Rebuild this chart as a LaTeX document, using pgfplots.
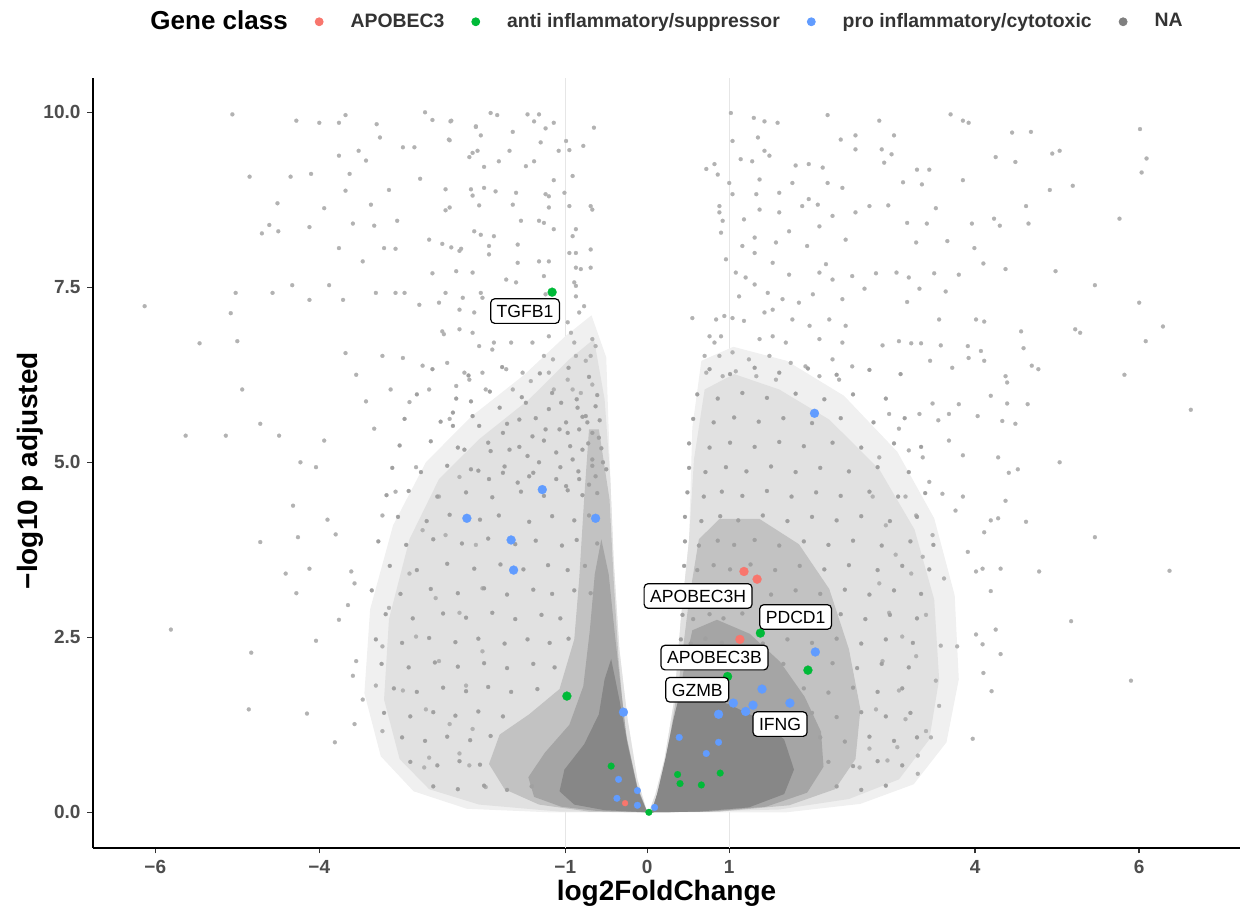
\documentclass[border=0pt]{standalone}
\usepackage{fontspec}
\setmainfont{Liberation Sans}
\usepackage{pgfplots}
\pgfplotsset{compat=1.18}
\definecolor{apored}{HTML}{F8766D}
\definecolor{antigreen}{HTML}{00BA38}
\definecolor{problue}{HTML}{619CFF}
\definecolor{nagrey}{HTML}{7F7F7F}
\definecolor{dotgrey}{HTML}{B2B2B2}
\definecolor{dotgreyd}{HTML}{A0A0A0}
\definecolor{tickgrey}{HTML}{4D4D4D}
\definecolor{layAA}{HTML}{F0F0F0}
\definecolor{layA}{HTML}{E1E1E1}
\definecolor{layB}{HTML}{C2C2C2}
\definecolor{layBB}{HTML}{A5A5A5}
\definecolor{layC}{HTML}{878787}
\definecolor{vline}{HTML}{E6E6E6}
\begin{document}
\begin{tikzpicture}
\useasboundingbox (-46.5pt,-30pt) rectangle (578.5pt,424pt);
\begin{axis}[
 scale only axis, width=573.5pt, height=385pt,
 xmin=-6.76, xmax=7.23, ymin=-0.51, ymax=10.49,
 axis x line*=bottom, axis y line*=left,
 axis line style={-, line width=0.9pt, black},
 xtick={-6,-4,-1,0,1,4,6}, xticklabels={−6,−4,−1,0,1,4,6},
 ytick={0,2.5,5,7.5,10}, yticklabels={0.0,2.5,5.0,7.5,10.0},
 tick align=outside, major tick length=2.75pt,
 tick style={line width=0.7pt, color=black!80},
 ticklabel style={font=\fontsize{9.5}{11}\selectfont\bfseries, text=tickgrey},
 xlabel={log2FoldChange}, ylabel={−log10 p adjusted},
 label style={font=\fontsize{14}{16}\selectfont\bfseries},
 xlabel style={at={([yshift=-22.5pt]axis description cs:0.5,0)}, anchor=center},
 ylabel style={at={([xshift=-31.5pt]axis description cs:0,0.49)}, anchor=center},
 legend style={draw=none, fill=none, at={(axis description cs:0.5,1.073)}, anchor=center,
   font=\fontsize{9.7}{11}\selectfont\bfseries, text=black!80,
   /tikz/every even column/.append style={column sep=5pt}},
 legend columns=-1,
 nagreydots/.style={forget plot, only marks, mark=*, mark size=1.0pt, color=dotgrey, mark options={line width=0.1pt}},
 nagreydotsd/.style={forget plot, only marks, mark=*, mark size=1.0pt, color=dotgreyd, mark options={line width=0.1pt}},
]
% reference lines
\addplot[forget plot, vline, line width=0.5pt] coordinates {(-1,-0.51) (-1,10.49)};
\addplot[forget plot, vline, line width=0.5pt] coordinates {(1,-0.51) (1,10.49)};
% density layers of the NA cloud
\addplot[forget plot, fill=layAA, draw=none] coordinates {(0,0) (-1.2,0.0) (-2.2,0.05) (-2.85,0.3) (-3.25,0.8) (-3.45,1.7) (-3.38,2.9) (-3.1,4.1) (-2.7,5.0) (-2.15,5.65) (-1.5,6.25) (-1.0,6.8) (-0.68,7.1) (-0.50,6.5) (-0.45,4.76) (-0.41,3.61) (-0.34,2.33) (-0.24,1.33) (-0.12,0.47)};
\addplot[forget plot, fill=layAA, draw=none] coordinates {(0.02,0) (0.6,0.0) (1.7,0.0) (2.6,0.12) (3.25,0.4) (3.65,1.0) (3.8,1.9) (3.75,3.1) (3.5,4.2) (3.05,5.15) (2.4,5.95) (1.7,6.45) (1.05,6.65) (0.66,6.45) (0.55,5.5) (0.51,3.90) (0.41,2.76) (0.33,1.61) (0.21,0.76) (0.10,0.26)};
\addplot[forget plot, fill=layA, draw=none] coordinates {(0,0) (-1.07,0.01) (-2.05,0.11) (-2.66,0.33) (-3.02,0.76) (-3.21,1.61) (-3.15,2.76) (-2.90,3.90) (-2.54,4.76) (-2.05,5.33) (-1.44,5.90) (-0.95,6.47) (-0.65,6.76) (-0.52,5.90) (-0.45,4.76) (-0.41,3.61) (-0.34,2.33) (-0.24,1.33) (-0.12,0.47)};
\addplot[forget plot, fill=layA, draw=none] coordinates {(0.02,0) (0.63,0.01) (1.61,0.04) (2.46,0.19) (3.07,0.47) (3.44,1.04) (3.56,1.90) (3.50,3.04) (3.26,4.04) (2.83,4.90) (2.22,5.61) (1.61,6.04) (1.06,6.26) (0.70,6.04) (0.57,5.04) (0.51,3.90) (0.41,2.76) (0.33,1.61) (0.21,0.76) (0.10,0.26)};
\addplot[forget plot, fill=layB, draw=none] coordinates {(0,0) (-0.71,0.01) (-1.32,0.11) (-1.74,0.33) (-1.93,0.69) (-1.80,1.11) (-1.44,1.40) (-1.07,1.76) (-0.89,2.47) (-0.83,3.33) (-0.77,4.47) (-0.71,5.47) (-0.59,5.47) (-0.46,4.47) (-0.41,3.33) (-0.35,2.19) (-0.27,1.19) (-0.13,0.40)};
\addplot[forget plot, fill=layB, draw=none] coordinates {(0.04,0) (0.88,0.01) (1.73,0.10) (2.29,0.33) (2.54,0.76) (2.60,1.47) (2.46,2.33) (2.22,3.19) (1.85,3.83) (1.37,4.19) (0.88,4.19) (0.63,3.90) (0.51,3.04) (0.39,1.90) (0.27,1.04) (0.15,0.33)};
\addplot[forget plot, fill=layBB, draw=none] coordinates {(0,0) (-0.62,0.02) (-1.05,0.08) (-1.38,0.22) (-1.45,0.50) (-1.25,0.85) (-0.95,1.25) (-0.78,1.80) (-0.70,2.60) (-0.64,3.40) (-0.56,3.90) (-0.47,3.40) (-0.40,2.60) (-0.32,1.75) (-0.25,1.05) (-0.12,0.36)};
\addplot[forget plot, fill=layBB, draw=none] coordinates {(0.05,0) (0.75,0.01) (1.45,0.08) (1.95,0.28) (2.15,0.65) (2.12,1.15) (1.92,1.65) (1.62,2.15) (1.25,2.55) (0.85,2.75) (0.55,2.60) (0.44,2.00) (0.33,1.20) (0.22,0.65) (0.12,0.25)};
\addplot[forget plot, fill=layC, draw=none] coordinates {(0,0) (-0.52,0.03) (-0.89,0.11) (-1.07,0.30) (-1.01,0.61) (-0.77,0.97) (-0.59,1.40) (-0.52,1.90) (-0.44,2.19) (-0.34,1.61) (-0.24,0.97) (-0.12,0.33)};
\addplot[forget plot, fill=layC, draw=none] coordinates {(0.05,0) (0.63,0.01) (1.24,0.07) (1.67,0.26) (1.79,0.61) (1.67,1.04) (1.37,1.33) (1.00,1.54) (0.63,1.69) (0.41,1.76) (0.32,1.33) (0.22,0.76) (0.12,0.26)};
% NA genes, sparse outer part
\addplot[nagreydots] coordinates {
(-5.06,9.97) (-4.28,9.88) (-4.00,9.85) (-3.76,9.85) (-3.68,9.96) (-3.30,9.83) (-2.71,10.0) (-2.62,9.89) (-2.39,9.88) (-2.09,9.79)
(-4.85,9.08) (-4.35,9.08) (-4.10,9.12) (-3.76,9.38) (-3.63,9.12) (-3.52,9.45) (-3.43,9.31) (-3.26,9.64) (-2.98,9.50) (-2.84,9.50) (-2.77,9.05) (-2.41,9.60) (-2.17,9.36)
(-4.51,8.70) (-3.94,8.63) (-3.68,8.88) (-3.37,8.68) (-3.15,8.89) (-2.46,8.60) (-2.13,8.81)
(-4.61,8.39) (-4.70,8.27) (-4.50,8.30) (-4.12,8.36) (-3.59,8.41) (-3.33,8.38) (-3.05,8.45) (-2.66,8.18) (-2.50,8.12)
(-3.76,8.06) (-3.47,7.87) (-3.21,8.06) (-3.07,8.05) (-2.27,8.05) (-2.03,8.25) (-2.62,7.70) (-2.33,7.73)
(-5.02,7.42) (-4.57,7.42) (-4.33,7.53) (-4.12,7.32) (-3.88,7.53) (-3.71,7.32) (-3.07,7.42) (-2.78,7.25)
(-6.13,7.23) (-5.08,7.13) (-5.46,6.70) (-5.00,6.73) (-4.94,6.04) (-5.63,5.38) (-5.14,5.38) (-4.72,5.55) (-4.49,5.38) (-4.32,4.38) (-4.72,3.86) (-4.26,3.93) (-4.41,3.41) (-4.28,3.13) (-5.81,2.61) (-4.83,2.28) (-4.86,1.47) (-4.15,1.41) (-3.81,1.00) (-4.04,2.45) (-3.90,4.18) (-3.80,3.97) (-4.12,3.48) (-3.76,2.75) (-3.61,3.44) (-3.57,3.27) (-3.65,2.96) (-3.55,2.16) (-3.59,1.95) (-3.47,1.61) (-3.57,1.26) (-3.31,1.81) (-3.23,1.16) (-2.72,0.64) (-2.66,0.78) (-2.29,0.84) (-2.17,0.67) (-1.97,0.36)
(-4.23,5.00) (-4.04,4.93) (-3.94,5.31) (-3.68,6.56) (-3.55,6.25) (-3.43,5.87) (-3.33,5.48) (-3.23,6.52) (-3.31,7.42) (-2.96,7.42) (-2.54,7.28) (-2.50,6.87) (-2.74,6.38) (-2.98,6.49) (-3.13,6.04) (-2.90,5.86) (-2.66,6.04) (-2.41,5.62) (-2.17,6.18) (-2.05,6.66) (-2.01,7.35) (-2.29,4.79) (-2.54,4.51) (-2.82,4.93) (-3.07,4.58) (-3.23,4.24) (-2.74,4.03) (-2.46,3.96) (-2.09,3.82) (-2.90,3.41) (-2.58,3.06) (-2.29,2.85) (-2.01,3.20) (-3.15,2.92) (-2.82,2.51) (-2.54,2.16) (-2.21,1.81) (-2.01,2.30) (-2.98,1.74) (-2.70,1.47) (-2.41,1.26) (-2.13,1.19) (-3.23,2.37)
(2.83,9.88) (3.70,9.97) (3.85,9.88) (3.92,9.85) (4.45,9.71) (4.68,9.72) (6.01,9.76) (6.09,9.34) (6.03,9.14) (3.01,9.67) (2.54,9.67) (2.86,9.47) (2.98,9.40) (2.89,9.28) (3.29,9.18) (3.44,9.18) (4.25,9.36) (4.49,9.29) (4.94,9.41) (5.03,9.45) (3.85,9.03) (3.12,9.00) (3.35,8.97) (4.91,8.89) (5.19,8.95) (4.62,8.66) (2.71,8.66) (3.52,8.63) (2.94,8.67) (3.17,8.42) (3.41,8.41) (3.96,8.41) (4.23,8.48) (4.65,8.41) (4.30,8.38) (5.76,8.48) (3.66,8.16) (3.28,8.14) (3.99,8.06) (4.10,7.84) (4.37,7.76) (4.98,7.73) (5.46,7.53) (6.00,7.28) (6.29,6.94) (6.08,6.73) (5.22,6.90) (5.28,6.85) (4.56,6.87) (4.59,6.63) (4.11,7.01) (4.01,7.04) (3.80,7.68) (3.64,7.44) (3.50,7.70) (3.32,7.48) (3.19,7.64) (3.04,7.71) (3.17,7.29) (2.79,7.70) (2.65,7.48) (3.56,7.04) (3.58,6.67) (3.91,6.66) (3.92,6.49) (4.07,6.59) (4.11,6.45) (4.37,6.23) (4.39,6.14) (4.69,6.38) (4.77,6.33) (5.82,6.25) (6.63,5.75) (3.72,6.35) (3.45,6.45) (3.34,6.70) (3.22,6.70) (3.07,6.73) (2.87,6.67) (4.19,5.95) (4.39,5.84) (4.64,5.83) (4.49,5.55) (4.33,5.59) (4.03,5.66) (3.80,5.83) (3.68,5.69) (3.48,5.84) (3.32,5.69) (5.03,5.00) (4.52,4.90) (4.41,4.85) (4.28,5.07) (3.85,4.51) (3.85,5.10) (3.68,5.31) (3.55,5.60) (4.19,4.17) (4.28,4.20) (4.37,4.45) (4.11,4.00) (4.62,4.15) (5.46,3.93) (6.37,3.45) (4.78,3.44) (4.31,3.48) (4.09,3.48) (4.19,3.16) (4.01,3.44) (3.91,3.72) (3.62,3.34) (5.17,2.73) (4.25,2.61) (4.31,2.26) (4.09,2.40) (4.01,2.54) (3.78,2.37) (3.58,2.38) (5.90,1.88) (4.20,1.73) (4.10,1.99) (3.97,1.05) (3.56,1.52) (3.46,1.07) (3.30,0.81) (3.30,0.55) (3.05,0.93) (2.93,0.74) (3.40,1.16) (3.52,1.88) (3.28,2.23) (3.40,2.82) (3.22,3.41) (3.36,3.65) (3.48,3.96) (3.28,4.24) (3.15,4.51) (3.44,4.72) (3.60,4.55) (3.76,4.31) (3.36,5.07) (3.19,5.17) (3.07,5.48) (2.95,5.69) (2.83,5.07) (2.75,4.51) (2.91,4.10) (3.03,3.68) (2.83,3.27) (2.95,2.85) (3.11,2.51) (2.87,2.16) (3.07,1.74) (2.79,1.47) (3.15,1.33) (2.71,0.91) (2.59,0.64)
(-1.91,9.99) (-1.83,9.96) (-1.46,9.97) (-1.32,9.97) (-1.38,9.87) (-1.14,9.85) (-0.65,9.78) (-1.24,9.77) (-2.40,9.87) (-2.09,9.80) (-2.03,9.67) (-1.64,9.72) (-2.42,9.61) (-1.30,9.57) (-0.99,9.59) (-0.95,9.46) (-0.78,9.52) (-1.08,9.45) (-2.13,9.42) (-2.07,9.45) (-1.68,9.45) (-1.81,9.30) (-1.48,9.23) (-1.38,9.30) (-1.99,9.22) (-0.91,9.09) (-1.14,9.03)
(-2.46,8.90) (-2.15,8.90) (-1.99,8.92) (-1.85,8.87) (-1.60,8.85) (-1.24,8.83) (-1.20,8.80) (-1.01,8.85) (-2.41,8.64) (-2.05,8.67) (-1.64,8.68) (-1.20,8.64) (-0.95,8.66) (-0.69,8.66) (-0.67,8.61) (-2.11,8.30) (-1.87,8.23) (-1.54,8.45) (-1.32,8.45) (-1.26,8.42) (-1.14,8.33) (-0.87,8.33) (-0.91,8.23)
(-2.39,8.07) (-2.29,8.02) (-1.93,8.09) (-1.93,7.97) (-1.58,8.11) (-1.58,7.85) (-1.32,7.87) (-1.20,7.87) (-0.95,7.99) (-0.87,7.99) (-0.69,8.04) (-0.87,7.78) (-0.81,7.76) (-0.69,7.78) (-2.13,7.71) (-1.72,7.61) (-1.60,7.57) (-1.26,7.66) (-0.89,7.57) (-0.87,7.52) (-2.46,7.42) (-2.25,7.35) (-2.03,7.42) (-2.29,7.18) (-2.11,7.14) (-1.24,7.40) (-0.87,7.37) (-0.77,7.23) (-0.83,7.14) (-0.97,7.00) (-0.93,6.85)
(-2.48,6.83) (-2.29,6.90) (-2.13,6.85) (-1.87,6.71) (-1.66,6.71) (-1.89,6.61) (-1.40,6.71) (-1.20,6.80) (-1.15,6.47) (-1.26,6.52) (-0.89,6.71) (-0.67,6.76) (-0.63,6.66) (-0.87,6.52) (-0.69,6.52) (-0.75,6.45) (-2.44,6.42) (-2.23,6.28) (-2.01,6.28) (-1.72,6.33) (-1.52,6.28) (-1.42,6.16) (-1.20,6.28) (-1.14,6.04) (-0.97,6.18) (-0.91,6.04) (-0.81,5.99) (-0.67,6.11) (-2.33,6.09) (-1.97,6.04) (-1.64,6.04)
(1.02,9.99) (1.30,9.92) (1.43,9.87) (1.59,9.85) (2.20,9.96) (1.04,9.59) (2.36,9.61) (1.35,9.64) (1.43,9.45) (1.49,9.38) (2.54,9.47) (0.72,9.19) (0.82,9.26) (1.14,9.33) (1.28,9.30) (1.81,9.24) (1.97,9.26) (2.14,9.21) (0.86,9.11) (1.00,8.99) (1.37,9.04) (1.77,8.99) (2.20,8.99) (2.38,8.92) (1.04,8.83) (1.33,8.83) (1.61,8.85) (1.97,8.76) (2.08,8.68) (1.89,8.66) (0.88,8.66) (0.88,8.57) (1.37,8.61) (1.61,8.57) (2.26,8.52) (2.54,8.57) (0.92,8.45) (1.18,8.47) (1.73,8.30) (2.10,8.37) (0.90,8.28) (1.31,8.21) (1.57,8.14) (1.95,8.09) (2.42,8.18) (1.16,8.09) (1.31,7.99) (0.96,7.90) (1.53,7.85) (2.18,7.83) (1.73,7.68) (1.08,7.71) (1.20,7.64) (1.31,7.54) (2.10,7.71) (2.26,7.61) (2.50,7.66)
(1.12,7.37) (1.47,7.42) (1.65,7.33) (1.85,7.28) (2.02,7.40) (2.38,7.33) (0.55,7.06) (0.84,7.04) (0.94,7.09) (1.04,7.06) (1.18,7.02) (1.43,7.14) (1.53,7.18) (1.77,7.04) (1.98,6.95) (2.22,7.04) (2.42,6.95) (0.76,6.80) (0.90,6.80) (0.82,6.71) (1.37,6.76) (1.53,6.80) (1.69,6.71) (2.10,6.76) (2.38,6.71) (0.70,6.52) (0.88,6.52) (1.04,6.57) (1.24,6.47) (1.49,6.52) (1.75,6.42) (1.93,6.37) (2.26,6.47) (2.50,6.37) (0.72,6.28) (0.92,6.23) (1.08,6.30) (1.33,6.23) (1.57,6.18) (2.10,6.23) (2.34,6.18)
};
% NA genes, denser inner part
\addplot[nagreydotsd] coordinates {
(-2.15,5.87) (-1.80,5.78) (-1.48,5.85) (-1.20,5.76) (-1.05,5.85) (-0.85,5.78) (-0.75,5.66) (-0.63,5.80) (-2.37,5.71) (-2.37,5.52) (-2.05,5.52) (-1.76,5.42) (-1.56,5.61) (-1.40,5.37) (-1.24,5.47) (-1.07,5.47) (-0.97,5.42) (-0.83,5.47) (-0.73,5.57) (-0.67,5.42) (-0.59,5.35) (-2.23,5.18) (-1.91,5.16) (-1.68,5.18) (-1.46,5.09) (-1.32,5.00) (-1.11,5.14) (-0.91,5.04) (-0.79,5.18) (-0.67,5.04) (-0.54,5.00) (-2.15,4.90) (-1.93,4.76) (-1.76,4.85) (-1.58,4.71) (-1.44,4.80) (-1.11,4.76) (-0.99,4.66) (-0.83,4.76) (-0.71,4.68) (-0.63,4.80) (-0.50,4.90)
(-2.62,6.33) (-2.18,6.24) (-1.77,6.36) (-1.31,6.27) (-0.96,6.35) (-0.71,6.22)
(-2.81,5.97) (-2.33,5.91) (-1.92,6.01) (-1.53,5.93) (-1.16,5.99) (-0.86,5.90) (-0.61,5.96)
(-2.96,5.62) (-2.52,5.58) (-2.13,5.66) (-1.71,5.55) (-1.36,5.63) (-0.99,5.57) (-0.79,5.65) (-0.58,5.60)
(-3.02,5.24) (-2.64,5.30) (-2.31,5.21) (-1.94,5.28) (-1.56,5.22) (-1.26,5.31) (-0.94,5.23) (-0.72,5.27) (-0.56,5.20)
(-3.11,4.92) (-2.76,4.86) (-2.44,4.95) (-2.06,4.88) (-1.74,4.94) (-1.39,4.85) (-1.06,4.93) (-0.84,4.87) (-0.67,4.95)
(-3.18,4.53) (-2.91,4.59) (-2.56,4.51) (-2.21,4.57) (-1.89,4.50) (-1.54,4.58) (-1.26,4.52) (-0.97,4.60) (-0.79,4.53) (-0.61,4.56)
(-3.04,4.22) (-2.69,4.16) (-2.41,4.25) (-2.04,4.18) (-1.81,4.24) (-1.44,4.15) (-1.16,4.23) (-0.89,4.17) (-0.71,4.24)
(-3.28,3.87) (-2.94,3.82) (-2.61,3.90) (-2.26,3.84) (-1.94,3.91) (-1.61,3.83) (-1.36,3.88) (-1.04,3.81) (-0.86,3.89) (-0.61,3.84)
(-3.14,3.52) (-2.81,3.46) (-2.44,3.55) (-2.11,3.48) (-1.79,3.54) (-1.51,3.47) (-1.21,3.53) (-0.97,3.46) (-0.76,3.52)
(-3.36,3.17) (-3.01,3.12) (-2.64,3.19) (-2.31,3.13) (-1.99,3.20) (-1.71,3.11) (-1.39,3.18) (-1.16,3.12) (-0.89,3.17) (-0.69,3.13)
(-3.19,2.83) (-2.86,2.77) (-2.49,2.84) (-2.21,2.78) (-1.89,2.85) (-1.61,2.76) (-1.29,2.82) (-1.06,2.77)
(-3.31,2.47) (-2.99,2.42) (-2.66,2.49) (-2.34,2.43) (-2.06,2.48) (-1.74,2.41) (-1.46,2.47) (-1.19,2.42) (-0.96,2.48)
(-3.24,2.12) (-2.91,2.07) (-2.59,2.14) (-2.31,2.08) (-1.99,2.13) (-1.71,2.06) (-1.39,2.12) (-1.13,2.07)
(-3.09,1.77) (-2.81,1.72) (-2.49,1.78) (-2.21,1.73) (-1.94,1.79) (-1.66,1.72) (-1.34,1.76)
(-3.21,1.42) (-2.89,1.37) (-2.61,1.43) (-2.34,1.38) (-2.06,1.44) (-1.76,1.37)
(-2.99,1.07) (-2.71,1.02) (-2.44,1.08) (-2.16,1.03) (-1.91,1.09)
(-2.89,0.72) (-2.56,0.67) (-2.29,0.73) (-2.04,0.68)
(-2.61,0.37) (-2.31,0.33) (-1.99,0.38) (-1.71,0.32) (-1.41,0.37)
(0.76,6.33) (1.01,6.26) (1.31,6.35) (1.61,6.28) (1.96,6.34) (2.31,6.25) (2.71,6.32) (3.09,6.26)
(0.61,5.97) (0.86,5.91) (1.16,5.99) (1.46,5.92) (1.81,5.98) (2.16,5.90) (2.51,5.97) (2.91,5.91)
(0.56,5.62) (0.81,5.57) (1.06,5.64) (1.36,5.58) (1.66,5.63) (2.01,5.56) (2.36,5.63) (2.76,5.57) (3.14,5.63)
(0.51,5.27) (0.76,5.21) (1.01,5.28) (1.31,5.22) (1.61,5.29) (1.91,5.23) (2.26,5.28) (2.61,5.21) (3.01,5.27) (3.34,5.22)
(0.51,4.92) (0.71,4.86) (0.96,4.93) (1.21,4.87) (1.51,4.94) (1.81,4.86) (2.11,4.92) (2.46,4.87) (2.81,4.93) (3.19,4.86)
(0.49,4.57) (0.69,4.51) (0.91,4.58) (1.16,4.52) (1.46,4.59) (1.76,4.51) (2.06,4.57) (2.36,4.52) (2.71,4.58) (3.06,4.51) (3.39,4.56)
(0.46,4.22) (0.66,4.16) (0.89,4.23) (1.11,4.17) (1.41,4.24) (1.71,4.16) (2.01,4.22) (2.31,4.17) (2.61,4.23) (2.96,4.16) (3.29,4.22)
(0.46,3.87) (0.63,3.81) (0.86,3.88) (1.06,3.82) (1.31,3.89) (1.61,3.81) (1.91,3.87) (2.21,3.82) (2.51,3.88) (2.86,3.81) (3.21,3.87) (3.49,3.82)
(0.45,3.52) (0.61,3.46) (0.81,3.53) (1.01,3.47) (1.26,3.54) (1.56,3.46) (1.86,3.52) (2.16,3.47) (2.46,3.53) (2.81,3.46) (3.11,3.52) (3.44,3.47)
(0.44,3.17) (0.59,3.11) (0.79,3.18) (0.96,3.12) (1.21,3.19) (1.51,3.11) (1.81,3.17) (2.11,3.12) (2.41,3.18) (2.71,3.11) (3.01,3.17) (3.34,3.12)
(0.43,2.82) (0.56,2.76) (0.76,2.83) (0.93,2.77) (1.16,2.84) (1.46,2.76) (1.76,2.82) (2.06,2.77) (2.36,2.83) (2.66,2.76) (2.96,2.82) (3.29,2.77)
(0.41,2.47) (0.53,2.41) (0.71,2.48) (0.91,2.42) (1.11,2.49) (1.41,2.41) (1.71,2.47) (2.01,2.42) (2.31,2.48) (2.61,2.41) (2.91,2.47) (3.24,2.42)
(0.39,2.12) (0.51,2.06) (0.69,2.13) (0.89,2.07) (1.11,2.14) (1.36,2.06) (1.66,2.12) (1.96,2.07) (2.26,2.13) (2.56,2.06) (2.86,2.12) (3.19,2.07)
(1.91,1.77) (2.21,1.71) (2.51,1.78) (2.81,1.72) (3.11,1.77)
(2.01,1.42) (2.31,1.36) (2.61,1.43) (2.91,1.37) (3.21,1.42)
(2.11,1.07) (2.41,1.01) (2.71,1.08) (3.01,1.02) (3.29,1.07)
(2.21,0.72) (2.51,0.66) (2.81,0.73) (3.11,0.67)
(2.31,0.37) (2.61,0.32) (2.91,0.38)
};
% APOBEC3
\addplot[forget plot, only marks, mark=*, mark size=2.25pt, color=apored, mark options={line width=0.1pt}] coordinates {(1.18,3.44) (1.34,3.33) (1.13,2.47)};
\addplot[forget plot, only marks, mark=*, mark size=1.5pt, color=apored, mark options={line width=0.1pt}] coordinates {(-0.27,0.13)};
% anti inflammatory / suppressor
\addplot[forget plot, only marks, mark=*, mark size=2.25pt, color=antigreen, mark options={line width=0.1pt}] coordinates {(-1.16,7.43) (1.38,2.56) (1.96,2.03) (0.98,1.94) (-0.98,1.66)};
\addplot[forget plot, only marks, mark=*, mark size=1.7pt, color=antigreen, mark options={line width=0.1pt}] coordinates {(-0.44,0.66) (0.37,0.54) (0.40,0.41) (0.66,0.39) (0.89,0.56) (0.02,0.0)};
% pro inflammatory / cytotoxic
\addplot[forget plot, only marks, mark=*, mark size=2.25pt, color=problue, mark options={line width=0.1pt}] coordinates {(2.04,5.70) (-2.20,4.20) (-1.28,4.61) (-0.63,4.20) (-1.66,3.89) (-1.63,3.46) (2.05,2.29) (1.40,1.76) (1.74,1.56) (1.29,1.53) (1.20,1.44) (1.05,1.56) (0.87,1.40) (-0.29,1.43)};
\addplot[forget plot, only marks, mark=*, mark size=1.7pt, color=problue, mark options={line width=0.1pt}] coordinates {(0.39,1.07) (0.87,1.00) (0.72,0.84) (-0.35,0.47) (-0.37,0.20) (-0.12,0.31) (-0.12,0.10) (0.09,0.07)};
% gene labels
\addplot[forget plot, draw=none, mark=none, nodes near coords, point meta=explicit symbolic,
  nodes near coords style={anchor=center, draw=black, fill=white, rounded corners=2pt, line width=0.6pt,
  font=\fontsize{8.8}{10}\selectfont, text=black, inner xsep=3pt, inner ysep=3pt, text height=6.3pt, text depth=0pt}]
  table[meta=label] {
x y label
-1.49 7.16 TGFB1
0.62 3.09 APOBEC3H
1.81 2.79 PDCD1
0.82 2.21 APOBEC3B
0.61 1.75 GZMB
1.62 1.26 IFNG
};
% legend
\addlegendimage{empty legend}
\addlegendentry{\color{black}\fontsize{13}{15}\selectfont Gene class}
\addlegendimage{legend image code/.code={\fill[apored] (0pt,0pt) circle (2pt); \path (-8.5pt,0pt) (13.5pt,0pt);}}
\addlegendentry{APOBEC3}
\addlegendimage{legend image code/.code={\fill[antigreen] (0pt,0pt) circle (2pt); \path (-8.5pt,0pt) (13.5pt,0pt);}}
\addlegendentry{anti inflammatory/suppressor}
\addlegendimage{legend image code/.code={\fill[problue] (0pt,0pt) circle (2pt); \path (-8.5pt,0pt) (13.5pt,0pt);}}
\addlegendentry{pro inflammatory/cytotoxic}
\addlegendimage{legend image code/.code={\fill[nagrey] (0pt,0pt) circle (2pt); \path (-8.5pt,0pt) (13.5pt,0pt);}}
\addlegendentry{NA}
\end{axis}
\end{tikzpicture}
\end{document}
